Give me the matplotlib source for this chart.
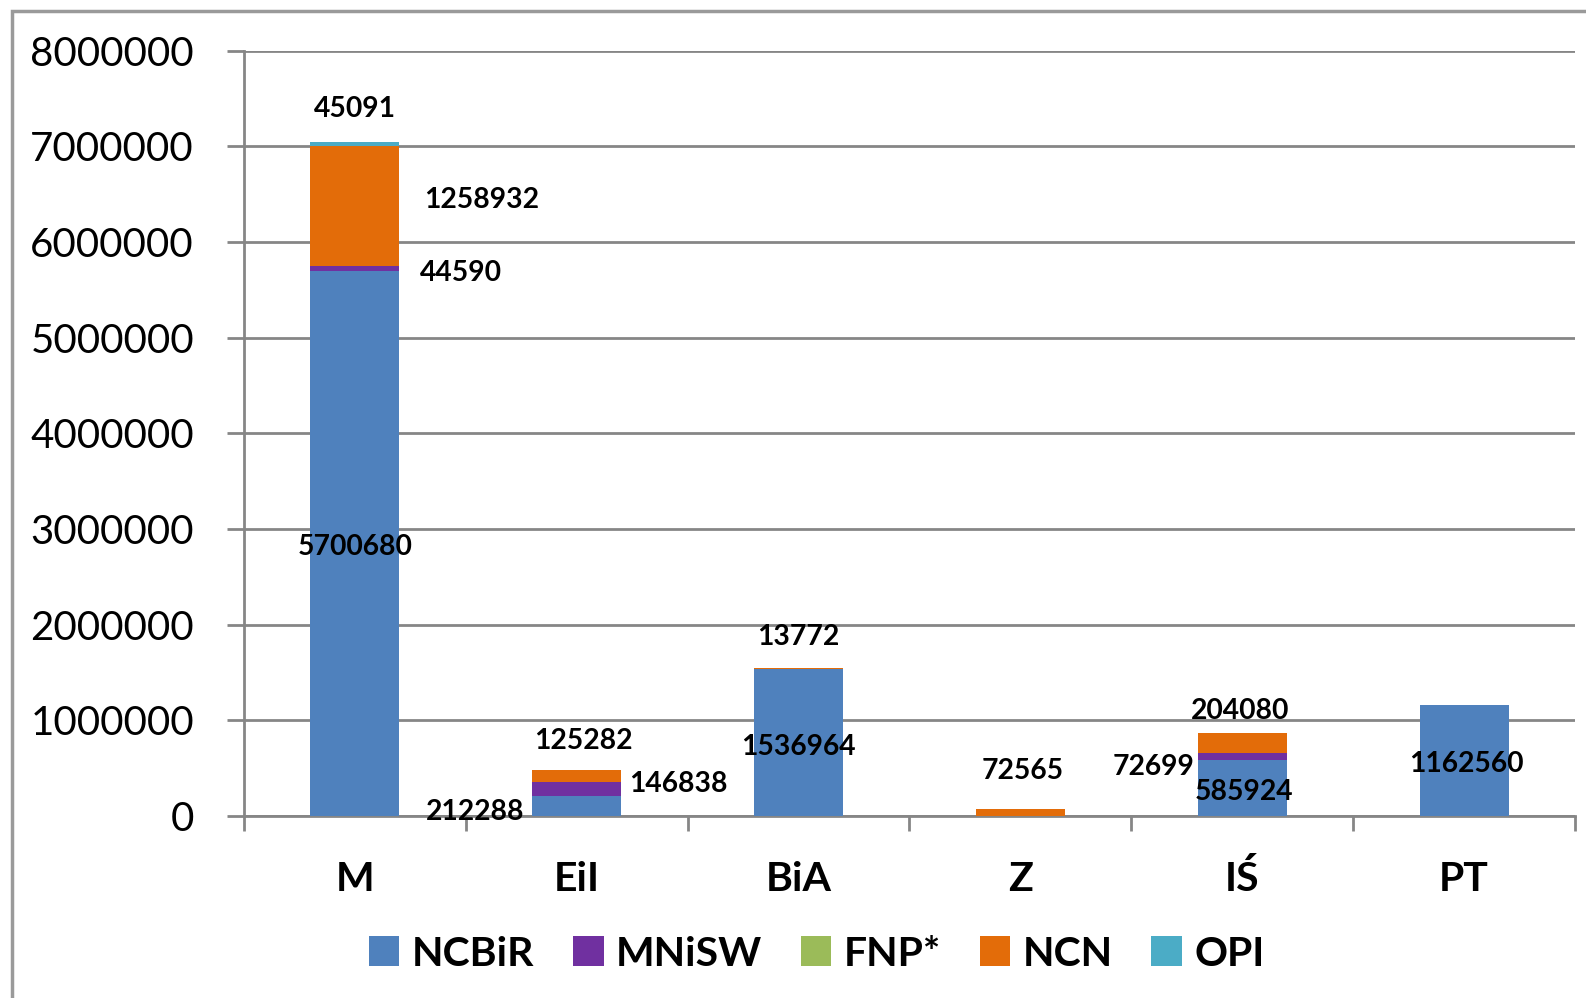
import matplotlib
matplotlib.use("Agg")
import matplotlib.pyplot as plt
from matplotlib.patches import Rectangle
import numpy as np

# dane
kategorie = ['M', 'EiI', 'BiA', 'Z', 'IŚ', 'PT']
serie = ['NCBiR', 'MNiSW', 'FNP*', 'NCN', 'OPI']
ncbir = [5700680, 212288, 1536964, 0, 585924, 1162560]
mnisw = [44590, 146838, 0, 0, 72699, 0]
fnp = [0, 0, 0, 0, 0, 0]
ncn = [1258932, 125282, 13772, 72565, 204080, 0]
opi = [45091, 0, 0, 0, 0, 0]
kolory = ['#4F81BD', '#7030A0', '#9BBB59', '#E36C09', '#4BACC6']

# etykiety: (kategoria, wartosc, przesuniecie x, wysokosc y)
etykiety = [
    (0, opi[0], 0.0, 7390000),
    (0, ncn[0], 0.57, 6440000),
    (0, mnisw[0], 0.48, 5680000),
    (0, ncbir[0], 0.0, 2810000),
    (1, ncn[1], 0.03, 780000),
    (1, mnisw[1], 0.46, 330000),
    (1, ncbir[1], -0.46, 40000),
    (2, ncn[2], 0.0, 1870000),
    (2, ncbir[2], 0.0, 720000),
    (3, ncn[3], 0.01, 465000),
    (4, ncn[4], -0.01, 1100000),
    (4, mnisw[4], -0.40, 507000),
    (4, ncbir[4], 0.01, 254000),
    (5, ncbir[5], 0.01, 540000),
]

plt.rcParams['font.family'] = ['Lato', 'DejaVu Sans']

fig = plt.figure(figsize=(15.86, 9.98), dpi=100)
ax = fig.add_axes([0.1538, 0.1824, 0.9931 - 0.1538, 0.9493 - 0.1824])

# ramka wykresu
fig.patches.append(Rectangle((12 / 1586, -0.1), 1.2, 1 - 11 / 998 + 0.1,
                             transform=fig.transFigure, fill=False,
                             edgecolor='#9a9a9a', linewidth=2.5))

x = np.arange(len(kategorie))
dol = np.zeros(len(kategorie))
for nazwa, wart, kol in zip(serie, [ncbir, mnisw, fnp, ncn, opi], kolory):
    ax.bar(x, wart, 0.4, bottom=dol, color=kol, label=nazwa, zorder=3)
    dol += np.array(wart)

for k, v, dx, yy in etykiety:
    ax.text(k + dx, yy, str(v), ha='center', va='center', fontsize=20.3,
            fontweight='bold', zorder=5)

ax.set_xlim(-0.5, 5.5)
ax.set_ylim(0, 8000000)
ax.set_yticks(np.arange(0, 8000001, 1000000))
ax.set_yticklabels([str(int(v)) for v in np.arange(0, 8000001, 1000000)])
ax.tick_params(axis='y', labelsize=29, length=12, width=2, color='#868686', pad=24)
ax.grid(axis='y', color='#868686', linewidth=2, zorder=0)

ax.set_xticks(np.arange(-0.5, 6, 1))
ax.set_xticklabels([])
ax.tick_params(axis='x', length=11, width=2, color='#868686')
for i, kat in enumerate(kategorie):
    ax.text(i, -0.083, kat, transform=ax.get_xaxis_transform(), ha='center',
            va='center', fontsize=29.5, fontweight='bold')

for s in ['top', 'right']:
    ax.spines[s].set_visible(False)
for s in ['left', 'bottom']:
    ax.spines[s].set_color('#868686')
    ax.spines[s].set_linewidth(2)

fig.legend(loc='center', bbox_to_anchor=(0.515, 0.044), ncol=5, frameon=False,
           prop={'size': 29.5, 'weight': 'bold'}, handlelength=0.74,
           handleheight=0.74, handletextpad=0.3, columnspacing=0.95)

fig.savefig('out.png', dpi=100)
